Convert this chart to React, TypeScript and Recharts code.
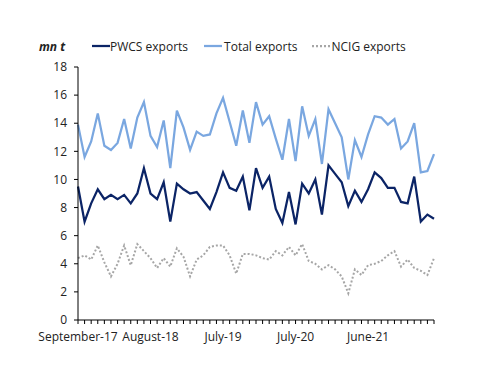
import { LineChart, Line, XAxis, YAxis, Legend } from 'recharts';

const categories = [
  'September-17', 'October-17', 'November-17', 'December-17', 'January-18', 'February-18',
  'March-18', 'April-18', 'May-18', 'June-18', 'July-18', 'August-18',
  'September-18', 'October-18', 'November-18', 'December-18', 'January-19', 'February-19',
  'March-19', 'April-19', 'May-19', 'June-19', 'July-19', 'August-19',
  'September-19', 'October-19', 'November-19', 'December-19', 'February-20', 'March-20',
  'April-20', 'May-20', 'June-20', 'July-20', 'August-20', 'September-20',
  'October-20', 'November-20', 'December-20', 'January-21', 'February-21', 'March-21',
  'April-21', 'May-21', 'June-21', 'July-21', 'August-21', 'September-21',
  'October-21', 'November-21', 'December-21', 'January-22', 'February-22', 'March-22',
  'April-22',
];

const pwcs = [
  9.5, 7.0, 8.3, 9.3, 8.6, 8.9, 8.6, 8.9, 8.3, 9.0, 10.8, 9.0,
  8.6, 9.8, 7.0, 9.7, 9.3, 9.0, 9.1, 8.5, 7.9, 9.1, 10.5, 9.4,
  9.2, 10.2, 7.8, 10.8, 9.4, 10.2, 7.9, 6.9, 9.1, 6.8, 9.7, 9.0,
  10.0, 7.5, 11.0, 10.4, 9.8, 8.1, 9.2, 8.4, 9.3, 10.5, 10.1, 9.4,
  9.4, 8.4, 8.3, 10.2, 7.0, 7.5, 7.2,
];

const total = [
  13.9, 11.6, 12.7, 14.7, 12.4, 12.1, 12.6, 14.3, 12.2, 14.4, 15.5, 13.1,
  12.3, 14.2, 10.8, 14.9, 13.7, 12.1, 13.4, 13.1, 13.2, 14.7, 15.8, 14.1,
  12.4, 14.9, 12.6, 15.5, 13.9, 14.5, 12.9, 11.4, 14.3, 11.3, 15.2, 13.1,
  14.3, 11.1, 15.0, 14.0, 13.0, 10.0, 12.8, 11.6, 13.2, 14.5, 14.4, 13.9,
  14.3, 12.2, 12.7, 14.0, 10.5, 10.6, 11.8,
];

const ncig = [
  4.4, 4.6, 4.3, 5.3, 4.1, 3.1, 4.0, 5.3, 3.9, 5.4, 4.9, 4.4,
  3.7, 4.4, 3.8, 5.1, 4.5, 3.1, 4.3, 4.6, 5.2, 5.3, 5.3, 4.6,
  3.3, 4.7, 4.7, 4.6, 4.4, 4.3, 4.9, 4.6, 5.2, 4.6, 5.4, 4.2,
  4.0, 3.6, 3.9, 3.6, 3.1, 1.9, 3.6, 3.2, 3.9, 4.0, 4.2, 4.6,
  4.9, 3.8, 4.3, 3.7, 3.5, 3.2, 4.4,
];

const tickLabels = ['September-17', 'August-18', 'July-19', 'July-20', 'June-21'];
const yTicks = [0, 2, 4, 6, 8, 10, 12, 14, 16, 18];

const data = categories.map((month, i) => ({
  month,
  pwcs: pwcs[i],
  total: total[i],
  ncig: ncig[i],
}));

const FONT = '"Open Sans", sans-serif';
const DARK = '#0b2466';
const LIGHT = '#7aa7e0';
const GREY = '#a6a6a6';

// only some months get a label, but every month keeps its tick mark
const XTick = (props: any) => {
  const { x, y, payload } = props;
  if (!tickLabels.includes(payload.value)) return <g />;
  return (
    <text x={x} y={y} dy="0.71em" textAnchor="middle" fontSize={12} fontFamily={FONT} fill="#222">
      {payload.value}
    </text>
  );
};

const Sample = ({ color, dash }: { color: string; dash?: string }) => (
  <svg width={18} height={4} style={{ display: 'block' }}>
    <line x1={0} y1={2} x2={18} y2={2} stroke={color} strokeWidth={2.25} strokeDasharray={dash} />
  </svg>
);

const LegendBox = () => (
  <div style={{ display: 'flex', alignItems: 'center', fontFamily: FONT, fontSize: 12, color: '#222', height: 16 }}>
    <span style={{ marginLeft: 39, fontWeight: 'bold', fontStyle: 'italic', width: 53 }}>mn t</span>
    <Sample color={DARK} />
    <span style={{ marginRight: 16 }}>PWCS exports</span>
    <Sample color={LIGHT} />
    <span style={{ marginLeft: 2, marginRight: 15 }}>Total exports</span>
    <Sample color={GREY} dash="2 2" />
    <span style={{ marginLeft: 1 }}>NCIG exports</span>
  </div>
);

export default function App() {
  return (
    <div style={{ position: 'absolute', left: 0, top: 0, background: '#fff' }}>
      <LineChart width={500} height={386} data={data} margin={{ top: 67, right: 66, bottom: 36, left: 0 }}>
        <XAxis
          dataKey="month"
          interval={0}
          tick={<XTick />}
          tickSize={4}
          tickMargin={8}
          height={30}
          stroke="#000"
          tickLine={{ stroke: '#000' }}
        />
        <YAxis
          domain={[0, 18]}
          ticks={yTicks}
          width={78}
          tickSize={4}
          tickMargin={7}
          stroke="#000"
          tick={{ fontSize: 12, fontFamily: FONT, fill: '#222' }}
        />
        <Legend
          layout="horizontal"
          verticalAlign="middle"
          align="center"
          wrapperStyle={{ top: 38, left: 0, width: 500 }}
          content={() => <LegendBox />}
        />
        <Line dataKey="total" stroke={LIGHT} strokeWidth={2.25} dot={false} isAnimationActive={false} />
        <Line dataKey="pwcs" stroke={DARK} strokeWidth={2.25} dot={false} isAnimationActive={false} />
        <Line dataKey="ncig" stroke={GREY} strokeWidth={2} strokeDasharray="2 2" dot={false} isAnimationActive={false} />
      </LineChart>
    </div>
  );
}
